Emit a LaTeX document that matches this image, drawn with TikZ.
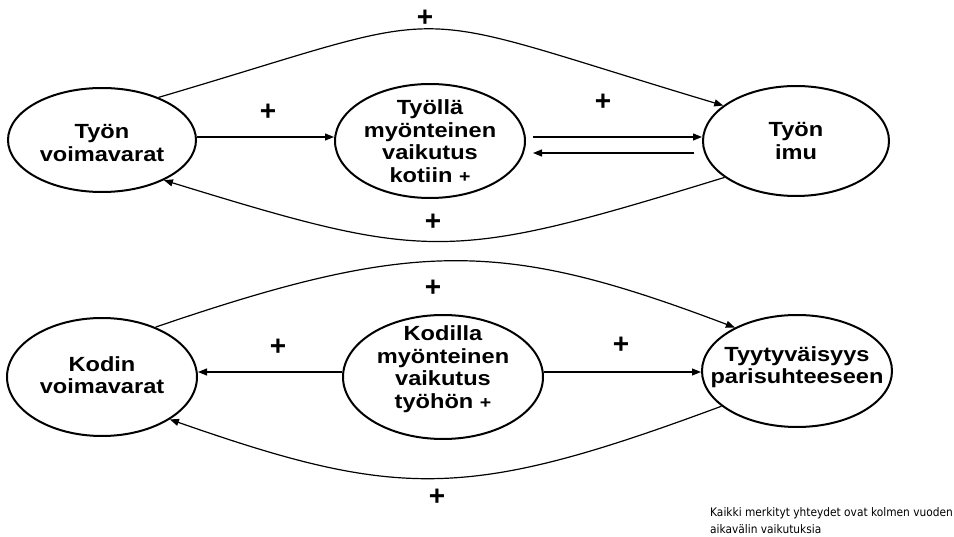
\documentclass[tikz,border=0pt]{standalone}
\usepackage{fontspec}
\setmainfont{Liberation Sans}
\newfontfamily\nodefont[FakeStretch=1.15]{Liberation Sans}
\newfontfamily\notefont[FakeStretch=0.9]{DejaVu Sans}
\usetikzlibrary{shapes.geometric,arrows.meta}

\tikzset{
  ell/.style={ellipse, draw, line width=2pt, inner sep=0pt},
  lbl/.style={align=center, inner sep=0pt,
    font=\nodefont\bfseries\fontsize{20.5}{22.5}\selectfont},
  arr/.style={line width=1.2pt, -{Triangle[length=9pt,width=7pt]}},
  plus/.style={font=\bfseries\fontsize{28}{28}\selectfont, inner sep=0pt},
  note/.style={font=\notefont\fontsize{11.8}{17}\selectfont, align=left, anchor=west, inner sep=0pt}
}
\newcommand{\smallplus}{{\fontsize{17}{17}\selectfont +}}

\begin{document}
\begin{tikzpicture}[x=1pt,y=-1pt]
\useasboundingbox (0,0) rectangle (954,537);

% upper row: work
\node[ell, minimum width=188pt, minimum height=104pt] (A) at (102,140) {};
\node[ell, minimum width=190pt, minimum height=114pt] (B) at (430,141) {};
\node[ell, minimum width=186pt, minimum height=110pt] (C) at (796,141) {};
\node[lbl] (tA) at (102,143) {Työn\\voimavarat};
\node[lbl] (tB) at (430,141) {Työllä\\myönteinen\\vaikutus\\kotiin \smallplus};
\node[lbl] (tC) at (796,141) {Työn\\imu};

% lower row: home
\node[ell, minimum width=190pt, minimum height=118pt] (D) at (102,377) {};
\node[ell, minimum width=200pt, minimum height=124pt] (E) at (443,377) {};
\node[ell, minimum width=190pt, minimum height=112pt] (F) at (797,371) {};
\node[lbl] (tD) at (102,375) {Kodin\\voimavarat};
\node[lbl] (tE) at (443,369) {Kodilla\\myönteinen\\vaikutus\\työhön \smallplus};
\node[lbl] (tF) at (797,367) {Tyytyväisyys\\parisuhteeseen};

% connectors, upper row
\draw[arr] (A.37) .. controls (472,5) and (387,5) .. (C.154);
\draw[arr] (A.east |- 0,137) -- (B.west |- 0,137);
\draw[arr] ([xshift=7pt]B.east |- 0,137) -- (C.west |- 0,137);
\draw[arr] ([xshift=-8pt]C.west |- 0,153) -- ([xshift=7pt]B.east |- 0,153);
\draw[arr] (C.207) .. controls (449,262) and (430,262) .. (A.-33);

% connectors, lower row
\draw[arr] (D.43) .. controls (416,238) and (504,240) .. (F.145);
\draw[arr] (E.west |- 0,372) -- (D.east |- 0,372);
\draw[arr] (E.east |- 0,372) -- (F.west |- 0,372);
\draw[arr] (F.205) .. controls (469,500) and (400,500) .. (D.-32);

% signs
\node[plus] (p1) at (425,18) {+};
\node[plus] (p2) at (268,112) {+};
\node[plus] (p3) at (603,102) {+};
\node[plus] (p4) at (433,222) {+};
\node[plus] (p5) at (433,288) {+};
\node[plus] (p6) at (278,347) {+};
\node[plus] (p7) at (621,345) {+};
\node[plus] (p8) at (437,497) {+};

\node[note] (n) at (710,521) {Kaikki merkityt yhteydet ovat kolmen vuoden\\aikavälin vaikutuksia};
\end{tikzpicture}
\end{document}
